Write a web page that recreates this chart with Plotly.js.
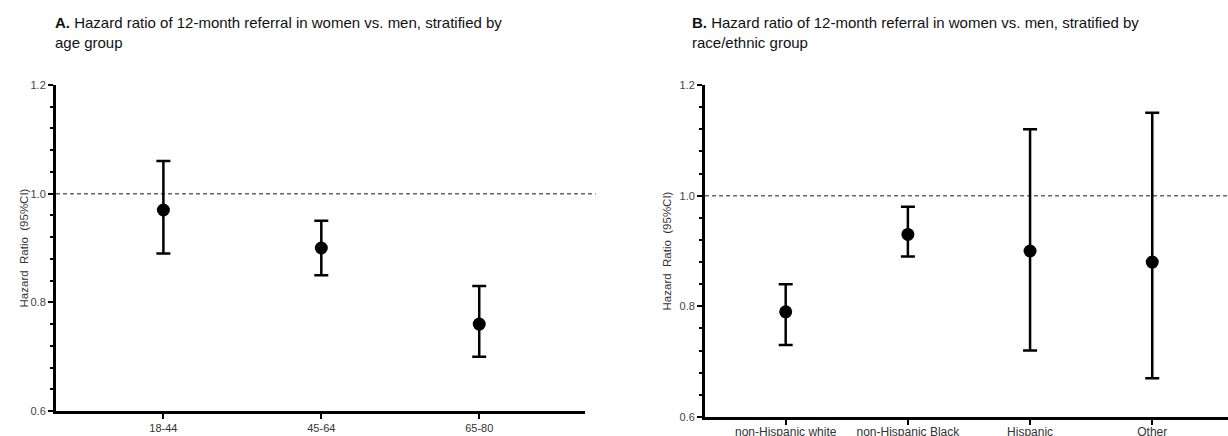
<!DOCTYPE html>
<html><head><meta charset="utf-8">
<script src="https://cdn.plot.ly/plotly-3.0.1.min.js"></script>
<style>body{margin:0;background:#fff}#chart{width:1228px;height:436px}</style>
</head><body><div id="chart"></div>
<script>
const ageGroups = ['18-44', '45-64', '65-80'];
const ageHR = [0.97, 0.90, 0.76];
const ageLow = [0.89, 0.85, 0.70];
const ageHigh = [1.06, 0.95, 0.83];

const raceGroups = ['non-Hispanic white', 'non-Hispanic Black', 'Hispanic', 'Other'];
const raceHR = [0.79, 0.93, 0.90, 0.88];
const raceLow = [0.73, 0.89, 0.72, 0.67];
const raceHigh = [0.84, 0.98, 1.12, 1.15];

const titleA = '<b>A.</b> Hazard ratio of 12-month referral in women vs. men, stratified by<br>age group';
const titleB = '<b>B.</b> Hazard ratio of 12-month referral in women vs. men, stratified by<br>race/ethnic group';
const yTitle = 'Hazard&nbsp;&nbsp;Ratio&nbsp;&nbsp;(95%CI)';

function trace(cats, hr, lo, hi, xa, ya) {
  return {
    type: 'scatter', mode: 'markers', x: cats, y: hr, xaxis: xa, yaxis: ya,
    marker: {color: '#000', size: 13},
    error_y: {type: 'data', symmetric: false,
      array: hr.map((v, i) => hi[i] - v),
      arrayminus: hr.map((v, i) => v - lo[i]),
      color: '#000', thickness: 2.5, width: 7},
    showlegend: false, hoverinfo: 'skip'
  };
}

const yax = (domain, standoff) => ({
  domain: domain, range: [0.6, 1.2], tick0: 0.6, dtick: 0.2, tickformat: '.1f',
  showline: true, linecolor: '#000', linewidth: 3, ticks: 'outside', ticklen: 5, tickwidth: 2,
  tickcolor: '#000', showgrid: false, zeroline: false,
  tickfont: {family: 'Liberation Sans, Arial', size: 11, color: '#444'},
  minor: {dtick: 0.04, tick0: 0.6, ticks: 'outside', ticklen: 3, tickwidth: 2, tickcolor: '#000', showgrid: false},
  title: {text: yTitle, font: {family: 'Liberation Sans, Arial', size: 11.5, color: '#333'}, standoff: standoff}
});
const xax = (domain, anchor, range, fs, so) => ({
  domain: domain, anchor: anchor, range: range, type: 'category',
  showline: true, linecolor: '#000', linewidth: 3, ticks: 'outside', ticklen: 5, tickwidth: 2,
  tickcolor: '#000', showgrid: false, zeroline: false, ticklabelstandoff: so,
  tickfont: {family: 'Liberation Sans, Arial', size: fs, color: '#333'}
});

const font15 = {family: 'Liberation Sans, Arial', size: 15, color: '#111'};
const layout = {
  width: 1228, height: 436,
  margin: {l: 56, r: 0, t: 85, b: 19},
  paper_bgcolor: '#fff', plot_bgcolor: '#fff',
  xaxis: xax([0, 0.4514], 'y', [-0.68, 2.67], 11, 0),
  yaxis: yax([0.018, 1], 0),
  xaxis2: xax([0.5538, 1], 'y2', [-0.66, 3.62], 12, -3),
  yaxis2: Object.assign(yax([0, 1], 6), {anchor: 'x2'}),
  shapes: [
    {type: 'line', xref: 'x domain', yref: 'y', x0: 0, x1: 1.02, y0: 1, y1: 1,
     line: {color: '#666', width: 1.5, dash: '4px,3px'}, layer: 'below'},
    {type: 'line', xref: 'x2 domain', yref: 'y2', x0: 0, x1: 1, y0: 1, y1: 1,
     line: {color: '#666', width: 1.5, dash: '4px,3px'}, layer: 'below'}
  ],
  annotations: [
    {text: titleA, xref: 'paper', yref: 'paper', x: (53 - 56) / 1172, y: 1 + (85 - 12) / 332,
     xanchor: 'left', yanchor: 'top', align: 'left', showarrow: false, font: font15},
    {text: titleB, xref: 'paper', yref: 'paper', x: (690 - 56) / 1172, y: 1 + (85 - 12) / 332,
     xanchor: 'left', yanchor: 'top', align: 'left', showarrow: false, font: font15}
  ]
};

Plotly.newPlot('chart', [
  trace(ageGroups, ageHR, ageLow, ageHigh, 'x', 'y'),
  trace(raceGroups, raceHR, raceLow, raceHigh, 'x2', 'y2')
], layout, {displayModeBar: false, staticPlot: true});
</script></body></html>
